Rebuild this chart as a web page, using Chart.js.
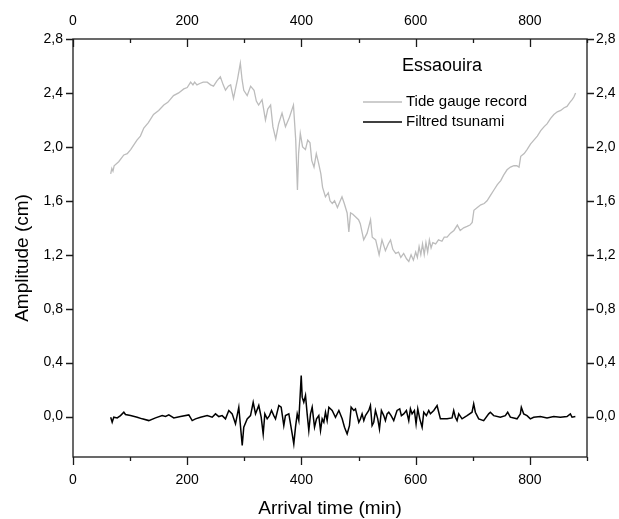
<!DOCTYPE html>
<html><head><meta charset="utf-8">
<script src="https://cdn.jsdelivr.net/npm/chart.js@4/dist/chart.umd.min.js"></script>
<style>html,body{margin:0;padding:0;background:#fff}#wrap{width:619px;height:519px;position:relative}</style>
</head><body><div id="wrap"><canvas id="c"></canvas></div>
<script>
// ---- data ----
const tideTime = [66,68,70,72,80,89,95,101,112,118,124,132,141,150,159,166,176,185,194,200,206,210,213,217,222,228,235,241,246,252,258,263,267,272,276,281,288,293,296,299,305,311,317,321,325,331,337,341,346,350,355,360,366,372,379,386,390,393,395,398,402,407,411,415,418,422,426,430,434,437,442,447,450,454,458,463,468,471,475,480,483,486,490,495,500,503,509,515,521,524,530,536,541,547,552,556,560,565,570,574,579,584,588,592,596,600,603,606,609,612,615,618,621,624,627,630,635,640,646,650,655,661,667,673,678,684,690,695,699,702,708,714,720,725,731,737,743,749,754,760,766,772,777,781,784,790,795,801,807,813,819,825,830,836,842,848,854,860,865,870,874,877,880];
const tideAmp = [1.80,1.84,1.82,1.86,1.89,1.94,1.95,1.98,2.05,2.08,2.14,2.18,2.24,2.27,2.31,2.33,2.38,2.40,2.43,2.44,2.48,2.46,2.48,2.46,2.47,2.48,2.48,2.46,2.45,2.49,2.52,2.46,2.42,2.45,2.46,2.36,2.50,2.62,2.50,2.42,2.38,2.45,2.42,2.34,2.31,2.35,2.20,2.28,2.31,2.15,2.06,2.17,2.25,2.15,2.22,2.31,2.05,1.68,1.95,2.10,2.00,1.98,2.05,2.03,1.90,1.85,1.95,1.88,1.80,1.70,1.63,1.66,1.60,1.58,1.60,1.55,1.60,1.63,1.58,1.51,1.37,1.51,1.50,1.48,1.46,1.43,1.31,1.36,1.46,1.33,1.31,1.20,1.31,1.23,1.28,1.31,1.24,1.21,1.22,1.18,1.21,1.17,1.15,1.20,1.16,1.22,1.18,1.26,1.20,1.28,1.20,1.29,1.22,1.31,1.25,1.29,1.28,1.31,1.30,1.33,1.33,1.36,1.38,1.42,1.38,1.40,1.41,1.42,1.44,1.53,1.55,1.57,1.58,1.60,1.64,1.68,1.72,1.75,1.79,1.83,1.85,1.86,1.86,1.85,1.93,1.95,1.98,2.02,2.05,2.08,2.12,2.15,2.17,2.21,2.24,2.26,2.27,2.29,2.30,2.33,2.35,2.37,2.40];
const tsunamiTime = [66,68.6,71.4,77.4,83.2,89,91.9,100.7,112.4,121.2,132.7,144.5,156.2,162,167.8,176.5,188.2,202.8,208.7,214.5,223.3,235,243.7,249.5,255.3,261.2,267,272.8,278.7,284.5,290.3,296.3,299,305,310.8,315.5,319.6,325.3,329.5,333,335.9,340,344,347.6,351.6,354.6,360.4,364.5,369.1,372,377.9,383.8,386.6,389.6,392.6,395.4,399.6,401.3,404.1,407.1,410,412.9,415.9,418.8,422.9,426.4,430.4,433.4,436.3,439.2,442.1,445,448,453.8,459.6,465.5,471.3,475.4,480,484.1,487,491.7,494.6,497.5,500.4,503.3,506.2,509.2,512.1,517.9,520.8,523.7,526.6,529.6,533.6,536.6,540,544.1,547,550,552.9,557,561.6,567.4,572.1,575,579.1,583.8,587.9,590.8,593.7,597.8,600.7,603.7,607.2,611.3,614.2,618.8,622.9,625.8,631.7,637.5,640.4,643.3,655,663.7,666.6,669.5,672.5,675.4,681.2,690,698.7,701.6,704.5,710.4,719.1,727.9,730.8,736.6,748.3,757,761.1,765.8,777.5,783.3,785,789.1,795,800.8,806.6,818.3,830,841.7,853.3,865,870.9,873.8,879.6];
const tsunamiAmp = [-0.005,-0.042,-0.005,-0.01,0.007,0.032,0.015,0.007,-0.005,-0.017,-0.03,-0.01,0.007,0,0.012,-0.01,0,0.012,-0.03,-0.017,-0.005,0.007,-0.005,0.02,0,0.007,-0.017,0.045,0.02,-0.054,0.069,-0.215,-0.079,-0.017,0.007,0.106,0.02,0.082,-0.005,-0.129,0.02,-0.017,0.007,0.045,0.007,-0.017,0.082,0.069,-0.067,0.007,0.02,-0.129,-0.203,-0.079,0.02,-0.03,0.305,0.144,0.106,0.156,0.02,-0.104,0.02,0.069,-0.079,-0.017,0.007,-0.104,-0.017,-0.042,0.032,-0.03,0.069,0.045,-0.005,0.045,-0.017,-0.079,-0.129,-0.067,0.069,0.045,0.057,0.007,-0.042,-0.017,0.02,-0.03,0.007,0.045,0.082,-0.067,-0.042,0.045,-0.017,-0.092,0.045,0.007,-0.03,0.02,0.032,0.007,-0.03,0.045,0.057,0.007,0.02,0.045,-0.03,0.057,0.02,0.045,-0.054,0.057,-0.017,-0.079,0.032,0.007,0.045,0.02,0.045,0.082,0.032,-0.017,-0.017,-0.01,0.045,-0.005,-0.03,0.02,-0.017,0.007,0.032,0.094,0.032,-0.017,-0.03,0.02,0.032,0.007,-0.005,0.007,0.032,-0.005,-0.017,0.02,0.069,0.02,0.007,-0.017,-0.005,0,-0.01,0,-0.005,0,0.02,-0.005,0];
const xMajorTicks = [0,200,400,600,800];
const xMinorTicks = [100,300,500,700,900];
const yTicks = [0,0.4,0.8,1.2,1.6,2.0,2.4,2.8];
const xRange = [0,900];
const yRange = [-0.3,2.8];
const seriesNames = ['Tide gauge record','Filtred tsunami'];
const seriesColors = ['#bcbcbc','#000000'];
const stationName = 'Essaouira';
const xTitle = 'Arrival time (min)';
const yTitle = 'Amplitude (cm)';

// ---- chart ----
const FONT = '"Liberation Sans", Arial, sans-serif';
const pts = (xs, ys) => xs.map((x,i)=>({x:x,y:ys[i]}));
const fmtY = v => Number(v).toFixed(1).replace('.', ',');
const setTicks = arr => s => { s.ticks = arr.map(v=>({value:v})); };

const decor = {
  id:'decor',
  afterDraw(chart){
    const {ctx, chartArea:a, scales} = chart;
    const xs = scales.x, ys = scales.y;
    ctx.save();
    ctx.strokeStyle = '#1a1a1a'; ctx.lineWidth = 1.3;
    ctx.strokeRect(a.left, a.top, a.right-a.left, a.bottom-a.top);
    ctx.beginPath();
    xMajorTicks.forEach(v=>{const p=Math.round(xs.getPixelForValue(v))+0.5;
      ctx.moveTo(p,a.bottom); ctx.lineTo(p,a.bottom+8);
      ctx.moveTo(p,a.top); ctx.lineTo(p,a.top+8);});
    xMinorTicks.forEach(v=>{const p=Math.round(xs.getPixelForValue(v))+0.5;
      ctx.moveTo(p,a.bottom); ctx.lineTo(p,a.bottom+4);
      ctx.moveTo(p,a.top); ctx.lineTo(p,a.top+4);});
    yTicks.forEach(v=>{const p=Math.round(ys.getPixelForValue(v))+0.5;
      ctx.moveTo(a.left,p); ctx.lineTo(a.left-7,p);
      ctx.moveTo(a.right,p); ctx.lineTo(a.right+7,p);});
    ctx.stroke();
    // axis titles
    ctx.fillStyle = '#000';
    ctx.font = '19px ' + FONT;
    ctx.textAlign = 'center'; ctx.textBaseline = 'middle';
    ctx.fillText(xTitle, (a.left+a.right)/2, 509);
    ctx.save();
    ctx.translate(23, 258); ctx.rotate(-Math.PI/2);
    ctx.fillText(yTitle, 0, 0);
    ctx.restore();
    // station + legend
    ctx.font = '18px ' + FONT;
    ctx.fillText(stationName, 442, 66);
    ctx.font = '15px ' + FONT;
    ctx.textAlign = 'left';
    const ly = [102, 122];
    seriesNames.forEach((n,i)=>{
      ctx.strokeStyle = seriesColors[i]; ctx.lineWidth = i ? 1.6 : 1.3;
      ctx.beginPath(); ctx.moveTo(363, ly[i]); ctx.lineTo(402, ly[i]); ctx.stroke();
      ctx.fillText(n, 406, ly[i]);
    });
    ctx.restore();
  }
};

new Chart(document.getElementById('c'), {
  type:'line',
  data:{datasets:[
    {label:seriesNames[0], data:pts(tideTime,tideAmp), borderColor:seriesColors[0], borderWidth:1.3, pointRadius:0, tension:0, xAxisID:'x', yAxisID:'y'},
    {label:seriesNames[1], data:pts(tsunamiTime,tsunamiAmp), borderColor:seriesColors[1], borderWidth:1.5, pointRadius:0, tension:0, xAxisID:'x', yAxisID:'y'}
  ]},
  options:{
    responsive:true, maintainAspectRatio:false, animation:false,
    layout:{padding:0},
    plugins:{legend:{display:false}, tooltip:{enabled:false}},
    scales:{
      x:{type:'linear', position:'bottom', min:xRange[0], max:xRange[1],
         afterBuildTicks:setTicks(xMajorTicks), afterFit:s=>{s.height=62;},
         grid:{display:false, drawTicks:false}, border:{display:false},
         ticks:{padding:15, color:'#000', font:{family:FONT,size:14}, maxRotation:0, autoSkip:false}},
      x2:{type:'linear', position:'top', min:xRange[0], max:xRange[1],
         afterBuildTicks:setTicks(xMajorTicks), afterFit:s=>{s.height=39;},
         grid:{display:false, drawTicks:false}, border:{display:false},
         ticks:{padding:9, color:'#000', font:{family:FONT,size:14}, maxRotation:0, autoSkip:false}},
      y:{type:'linear', position:'left', min:yRange[0], max:yRange[1],
         afterBuildTicks:setTicks(yTicks), afterFit:s=>{s.width=73;},
         grid:{display:false, drawTicks:false}, border:{display:false},
         ticks:{padding:10, color:'#000', font:{family:FONT,size:14}, callback:fmtY, autoSkip:false}},
      y2:{type:'linear', position:'right', min:yRange[0], max:yRange[1],
         afterBuildTicks:setTicks(yTicks), afterFit:s=>{s.width=32;},
         grid:{display:false, drawTicks:false}, border:{display:false},
         ticks:{padding:9, color:'#000', font:{family:FONT,size:14}, callback:fmtY, autoSkip:false}}
    }
  },
  plugins:[decor]
});
</script></body></html>
